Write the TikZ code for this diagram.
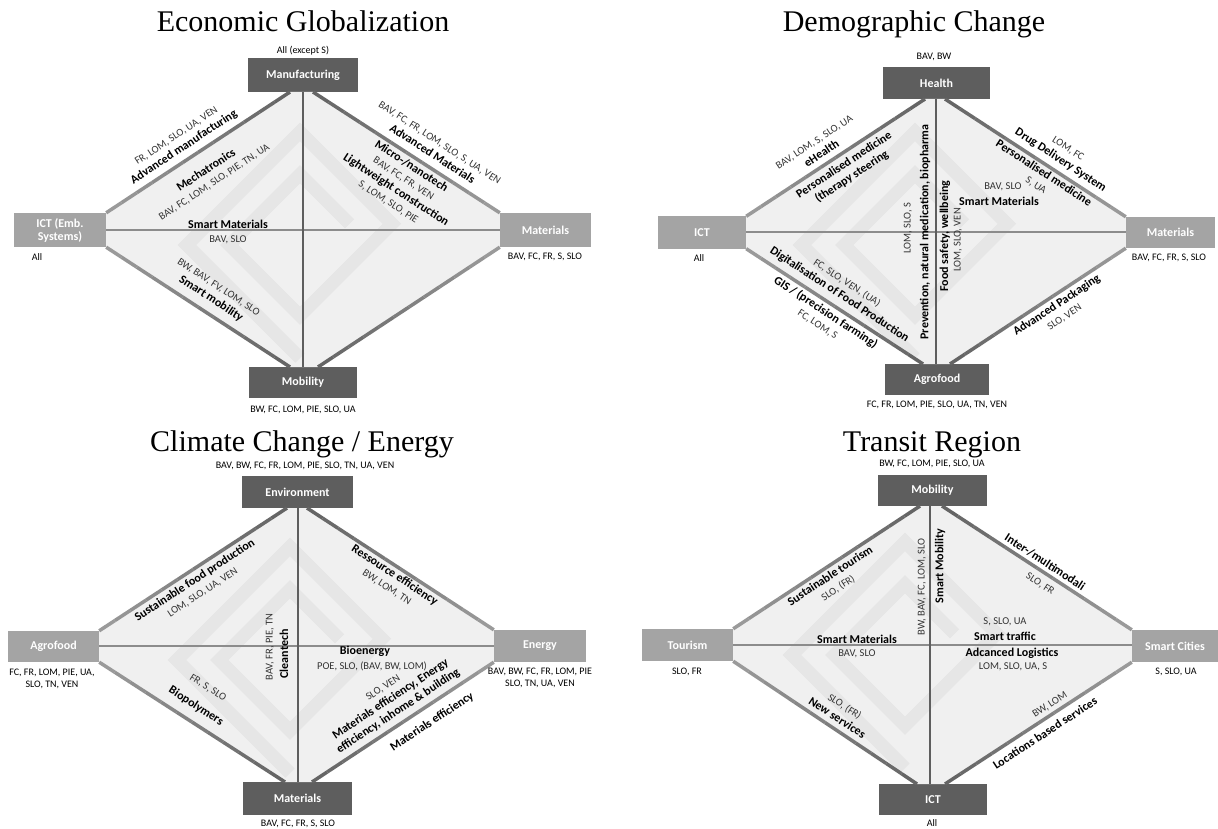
\documentclass[tikz,border=0pt]{standalone}
\usepackage{fontspec}
\setmainfont{Carlito}
\newfontfamily\ttlfont{Liberation Serif}
\usetikzlibrary{calc}
\definecolor{boxdark}{HTML}{5E5E5E}
\definecolor{boxlight}{HTML}{A4A4A4}
\definecolor{edark}{HTML}{626262}
\definecolor{elight}{HTML}{9C9C9C}
\definecolor{axisgray}{HTML}{8C8C8C}
\definecolor{fillgray}{HTML}{F0F0F0}
\definecolor{wmgray}{HTML}{E6E6E6}
\definecolor{lbl}{HTML}{333333}
\newcommand\nrm{\fontsize{10.5}{13}\selectfont\mdseries\color{lbl}}
\newcommand\bld{\fontsize{12}{13}\selectfont\bfseries\color{black}}
\tikzset{
  dbox/.style={fill=boxdark, text=white, font=\fontsize{12}{13}\selectfont\bfseries, inner sep=0pt, align=center},
  lbox/.style={fill=boxlight, text=white, font=\fontsize{12}{13}\selectfont\bfseries, inner sep=0pt, align=center},
  axisline/.style={draw=axisgray, line width=1.3pt},
  bl/.style={font=\bld, inner sep=0pt},
  nl/.style={font=\nrm, inner sep=0pt},
  stk/.style={font=\fontsize{12}{14}\selectfont, inner sep=0pt, align=center},
  sl/.style={font=\fontsize{10}{12}\selectfont, text=black, inner sep=0pt, align=center},
  ttl/.style={font=\fontsize{30}{32}\selectfont\ttlfont, text=black, inner sep=0pt, anchor=base},
  wm/.style={draw=wmgray, line width=13pt},
}
% graded edge: #1 = end at the dark box, #2 = end at the light box
\newcommand\gedge[2]{%
  \foreach \i in {0,...,11}{%
    \pgfmathtruncatemacro\pc{100-100*(\i+0.5)/12}%
    \draw[line width=3.5pt, draw=edark!\pc!elight] ($(#1)!{\i/12}!(#2)$) -- ($(#1)!{(\i+1)/12}!(#2)$);
  }}
\newcommand\wmark[2]{%
  \begin{scope}[shift={(#1,#2)},rotate=45]
    \draw[wm] (-80,80) -- (-80,-80) -- (80,-80) -- (80,50) -- (-50,50) -- (-50,-50) -- (50,-50) -- (50,20);
  \end{scope}}
\begin{document}
\begin{tikzpicture}[x=1pt,y=-1pt]
\useasboundingbox[fill=white] (0,0) rectangle (1218,829);

% ================= Q1 Economic Globalization =================
\node[ttl] (t1) at (303,32) {Economic Globalization};
\node[dbox, minimum width=110pt, minimum height=34pt] (manu) at (303,75) {Manufacturing};
\node[lbox, minimum width=92pt, minimum height=34pt] (ict1) at (60,230) {ICT (Emb.\\Systems)};
\node[lbox, minimum width=91pt, minimum height=34pt] (mat1) at (545.5,230) {Materials};
\node[dbox, minimum width=108pt, minimum height=31pt] (mob1) at (303,382.5) {Mobility};
\coordinate (a1) at (290,92); \coordinate (a2) at (313,92);
\coordinate (a3) at (318,367); \coordinate (a4) at (290,367);
\coordinate (a5) at (303,92); \coordinate (a6) at (303,367);
\coordinate (a7) at (106,230); \coordinate (a8) at (500,230);
\begin{scope}
  \clip (ict1.north east) -- (a1) -- (a2) -- (mat1.north west) -- (mat1.south west) -- (a3) -- (a4) -- (ict1.south east) -- cycle;
  \fill[fillgray] (0,0) rectangle (610,420);
  \wmark{300}{245}
\end{scope}
\draw[axisline] (a7) -- (a8);
\draw[axisline, draw=boxdark] (a5) -- (a6);
\gedge{a1}{ict1.north east}
\gedge{a2}{mat1.north west}
\gedge{a4}{ict1.south east}
\gedge{a3}{mat1.south west}
\node[sl] (s1a) at (303,51) {All (except S)};
\node[sl] (s1b) at (37,257) {All};
\node[sl] (s1c) at (545,257) {BAV, FC, FR, S, SLO};
\node[sl] (s1d) at (303,410) {BW, FC, LOM, PIE, SLO, UA};
\node[stk, rotate=33.5] (q1a) at (180.5,142) {\nrm FR, LOM, SLO, UA, VEN\\\bld Advanced manufacturing};
\node[stk, rotate=33.5] (q1c) at (210,176) {\bld Mechatronics\\\nrm BAV, FC, LOM, SLO, PIE, TN, UA};
\node[bl] (q1e) at (228,224) {Smart Materials};
\node[nl] (q1f) at (228,240) {BAV, SLO};
\node[stk, rotate=-33.3] (q1g) at (214.5,293.5) {\nrm BW, BAV, FV, LOM, SLO\\\bld Smart mobility};
\node[stk, rotate=-33.1] (q1i) at (436,148.5) {\nrm BAV, FC, FR, LOM, SLO, S, UA, VEN\\\bld Advanced Materials};
\node[stk, rotate=-33.1] (q1k) at (400,184) {\bld Micro-/nanotech\\\nrm BAV, FC, FR, VEN\\\bld Lightweight construction\\\nrm S, LOM, SLO, PIE};

% ================= Q2 Demographic Change =================
\node[ttl] (t2) at (914,32) {Demographic Change};
\node[dbox, minimum width=107pt, minimum height=32pt] (hea) at (936.5,83) {Health};
\node[lbox, minimum width=88pt, minimum height=32pt] (ict2) at (702,232.5) {ICT};
\node[lbox, minimum width=89pt, minimum height=31pt] (mat2) at (1170.5,232.5) {Materials};
\node[dbox, minimum width=104pt, minimum height=31pt] (agr2) at (937,379.5) {Agrofood};
\coordinate (b1) at (925,99); \coordinate (b2) at (945,99);
\coordinate (b3) at (950,364); \coordinate (b4) at (923,364);
\coordinate (b5) at (936,99); \coordinate (b6) at (936,364);
\coordinate (b7) at (746,232); \coordinate (b8) at (1126,232);
\begin{scope}
  \clip (ict2.north east) -- (b1) -- (b2) -- (mat2.north west) -- (mat2.south west) -- (b3) -- (b4) -- (ict2.south east) -- cycle;
  \fill[fillgray] (620,0) rectangle (1218,420);
  \wmark{915}{245}
\end{scope}
\draw[axisline] (b7) -- (b8);
\draw[axisline, draw=boxdark] (b5) -- (b6);
\gedge{b1}{ict2.north east}
\gedge{b2}{mat2.north west}
\gedge{b4}{ict2.south east}
\gedge{b3}{mat2.south west}
\node[sl] (s2a) at (934,57) {BAV, BW};
\node[sl] (s2b) at (699,258) {All};
\node[sl] (s2c) at (1169,258) {BAV, FC, FR, S, SLO};
\node[sl] (s2d) at (937,405) {FC, FR, LOM, PIE, SLO, UA, TN, VEN};
\node[stk, rotate=33.4] (q2a) at (818,148) {\nrm BAV, LOM, S, SLO, UA\\\bld eHealth};
\node[stk, rotate=33.4] (q2c) at (848,171) {\bld Personalised medicine\\\bld (therapy steering};
\node[stk, rotate=-33.1] (q2e) at (1064,155) {\nrm LOM, FC\\\bld Drug Delivery System};
\node[stk, rotate=-33.1] (q2g) at (1040,179) {\bld Personalised medicine\\\nrm S, UA};
\node[nl] (q2i) at (1003,187) {BAV, SLO};
\node[bl] (q2j) at (999,201) {Smart Materials};
\node[bl, rotate=90] (q2k) at (925,232) {Prevention, natural medication, biopharma};
\node[nl, rotate=90] (q2l) at (908,228) {LOM, SLO, S};
\node[bl, rotate=90] (q2m) at (945,236) {Food safety, wellbeing};
\node[nl, rotate=90] (q2n) at (958,240) {LOM, SLO, VEN};
\node[stk, rotate=-33.3] (q2o) at (843,289) {\nrm FC, SLO, VEN, (UA)\\\bld Digitalisation of Food Production};
\node[stk, rotate=-33.3] (q2q) at (822,318) {\bld GIS / (precision farming)\\\nrm FC, LOM, S};
\node[stk, rotate=33.4] (q2s) at (1060.5,311) {\bld Advanced Packaging\\\nrm SLO, VEN};

% ================= Q3 Climate Change / Energy =================
\node[ttl] (t3) at (302,451) {Climate Change / Energy};
\node[dbox, minimum width=111pt, minimum height=32pt] (env) at (297.5,492) {Environment};
\node[lbox, minimum width=91pt, minimum height=31pt] (agr3) at (53.5,646.5) {Agrofood};
\node[lbox, minimum width=92pt, minimum height=32pt] (ene) at (540,646) {Energy};
\node[dbox, minimum width=109pt, minimum height=33pt] (mat3) at (297.5,798.5) {Materials};
\coordinate (c1) at (287,508); \coordinate (c2) at (307,508);
\coordinate (c3) at (312,782); \coordinate (c4) at (285,782);
\coordinate (c5) at (298,508); \coordinate (c6) at (298,782);
\coordinate (c7) at (99,646); \coordinate (c8) at (494,646);
\begin{scope}
  \clip (agr3.north east) -- (c1) -- (c2) -- (ene.north west) -- (ene.south west) -- (c3) -- (c4) -- (agr3.south east) -- cycle;
  \fill[fillgray] (0,420) rectangle (620,829);
  \wmark{290}{660}
\end{scope}
\draw[axisline] (c7) -- (c8);
\draw[axisline, draw=boxdark] (c5) -- (c6);
\gedge{c1}{agr3.north east}
\gedge{c2}{ene.north west}
\gedge{c4}{agr3.south east}
\gedge{c3}{ene.south west}
\node[sl] (s3a) at (305,466) {BAV, BW, FC, FR, LOM, PIE, SLO, TN, UA, VEN};
\node[sl] (s3b) at (52,679) {FC, FR, LOM, PIE, UA,\\SLO, TN, VEN};
\node[sl] (s3c) at (540,678) {BAV, BW, FC, FR, LOM, PIE\\SLO, TN, UA, VEN};
\node[sl] (s3d) at (298,824) {BAV, FC, FR, S, SLO};
\node[stk, rotate=33.2] (q3a) at (198.5,586) {\bld Sustainable food production\\\nrm LOM, SLO, UA, VEN};
\node[stk, rotate=-33.1] (q3c) at (391,581) {\bld Ressource efficiency\\\nrm BW, LOM, TN};
\node[nl, rotate=90] (q3e) at (270,647) {BAV, FR, PIE, TN};
\node[bl, rotate=90] (q3f) at (284,654) {Cleantech};
\node[bl] (q3g) at (365,651) {Bioenergy};
\node[nl] (q3h) at (372,666) {POE, SLO, (BAV, BW, LOM)};
\node[stk, rotate=33.4] (q3i) at (391,700) {\nrm SLO, VEN\\\bld Materials efficiency, Energy\\\bld efficiency, inhome \& building};
\node[bl, rotate=33.4] (q3l) at (432,722) {Materials efficiency};
\node[nl, rotate=-33] (q3m) at (208,688) {FR, S, SLO};
\node[bl, rotate=-33] (q3n) at (196,706) {Biopolymers};

% ================= Q4 Transit Region =================
\node[ttl] (t4) at (932,451) {Transit Region};
\node[dbox, minimum width=109pt, minimum height=31pt] (mob4) at (932.5,490.5) {Mobility};
\node[lbox, minimum width=91pt, minimum height=32pt] (tou) at (687.5,645) {Tourism};
\node[lbox, minimum width=86pt, minimum height=32pt] (sci) at (1175,646) {Smart Cities};
\node[dbox, minimum width=108pt, minimum height=31pt] (ict4) at (933,799.5) {ICT};
\coordinate (d1) at (920,506); \coordinate (d2) at (942,506);
\coordinate (d3) at (945,784); \coordinate (d4) at (917,784);
\coordinate (d5) at (930,506); \coordinate (d6) at (930,784);
\coordinate (d7) at (733,645); \coordinate (d8) at (1132,645);
\begin{scope}
  \clip (tou.north east) -- (d1) -- (d2) -- (sci.north west) -- (sci.south west) -- (d3) -- (d4) -- (tou.south east) -- cycle;
  \fill[fillgray] (620,420) rectangle (1218,829);
  \wmark{905}{655}
\end{scope}
\draw[axisline] (d7) -- (d8);
\draw[axisline, draw=boxdark] (d5) -- (d6);
\gedge{d1}{tou.north east}
\gedge{d2}{sci.north west}
\gedge{d4}{tou.south east}
\gedge{d3}{sci.south west}
\node[sl] (s4a) at (932,464) {BW, FC, LOM, PIE, SLO, UA};
\node[sl] (s4b) at (687,672) {SLO, FR};
\node[sl] (s4c) at (1176,672) {S, SLO, UA};
\node[sl] (s4d) at (932,823) {All};
\node[stk, rotate=33.3] (q4a) at (834,582) {\bld Sustainable tourism\\\nrm SLO, (FR)};
\node[bl] (q4c) at (857,639) {Smart Materials};
\node[nl] (q4d) at (857,654) {BAV, SLO};
\node[nl, rotate=90] (q4e) at (922,587) {BW, BAV, FC, LOM, SLO};
\node[bl, rotate=90] (q4f) at (940,566) {Smart Mobility};
\node[stk, rotate=-33.3] (q4g) at (841,712) {\nrm SLO, (FR)\\\bld New services};
\node[bl, rotate=-33.1] (q4i) at (1045,562) {Inter-/multimodali};
\node[nl, rotate=-33.1] (q4j) at (1040,584) {SLO, FR};
\node[nl] (q4k) at (1005,622) {S, SLO, UA};
\node[bl] (q4l) at (1005,636) {Smart traffic};
\node[bl] (q4m) at (1012,653) {Adcanced Logistics};
\node[nl] (q4n) at (1013,667) {LOM, SLO, UA, S};
\node[nl, rotate=33.1] (q4o) at (1050,705) {BW, LOM};
\node[bl, rotate=33.1] (q4p) at (1045,733) {Locations based services};
\end{tikzpicture}
\end{document}
